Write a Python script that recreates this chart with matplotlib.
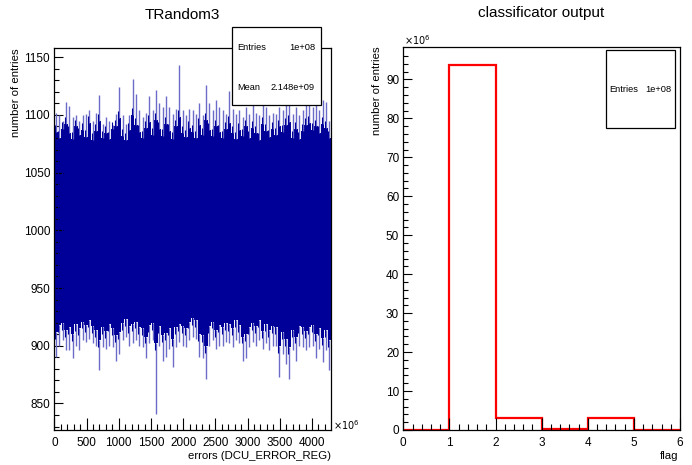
import numpy as np
import matplotlib.pyplot as plt
from matplotlib.patches import Rectangle

plt.rcParams['font.family'] = ['Liberation Sans', 'DejaVu Sans']

# ---- left: TRandom3 histogram (x in units of 1e6) ----
x_max = 4294.967
# spike tips above the band
upper = [1102, 1100, 1095, 1111, 1108, 1098, 1100, 1095, 1100, 1101, 1104, 1095,
         1102, 1117, 1092, 1098, 1095, 1091, 1101, 1124, 1100, 1092, 1100, 1131,
         1118, 1104, 1098, 1102, 1116, 1104, 1122, 1110, 1107, 1116, 1107, 1101,
         1105, 1143, 1104, 1100, 1105, 1104, 1101, 1110, 1100, 1126, 1110, 1104,
         1113, 1107, 1104, 1101, 1121, 1105, 1101, 1104, 1098, 1107, 1101, 1111,
         1102, 1100, 1113, 1107, 1100, 1102, 1101, 1107, 1104, 1110, 1113, 1101,
         1107, 1100, 1104, 1110, 1113, 1107, 1111, 1104, 1113, 1111, 1095]
# spike tips below the band
lower = [890, 900, 905, 896, 896, 889, 900, 896, 905, 903, 906, 902,
         900, 879, 899, 897, 900, 899, 887, 893, 905, 908, 900, 902,
         905, 900, 899, 889, 902, 905, 841, 900, 887, 890, 897, 882,
         899, 903, 900, 899, 905, 908, 906, 890, 889, 871, 900, 905,
         897, 900, 900, 903, 902, 899, 905, 902, 887, 889, 899, 903,
         900, 905, 897, 902, 896, 900, 900, 873, 893, 884, 871, 896,
         887, 900, 899, 896, 899, 900, 889, 897, 886, 896, 879]
# edges of the solid dark band
core_top = [1085, 1080, 1088, 1092, 1084, 1079, 1090, 1083, 1087, 1081, 1093, 1078,
            1086, 1095, 1080, 1084, 1079, 1088, 1090, 1097, 1082, 1078, 1087, 1100,
            1091, 1085, 1080, 1089, 1094, 1083, 1096, 1088, 1082, 1092, 1086, 1079,
            1090, 1098, 1084, 1081, 1089, 1085, 1080, 1091, 1083, 1096, 1087, 1082,
            1090, 1085, 1080, 1088, 1093, 1084, 1079, 1087, 1082, 1090, 1080, 1089,
            1084, 1078, 1092, 1086, 1081, 1088, 1083, 1090, 1085, 1091, 1094, 1080,
            1088, 1079, 1086, 1091, 1093, 1087, 1090, 1084, 1092, 1089, 1080]
core_bot = [912, 918, 920, 914, 916, 910, 919, 915, 921, 918, 922, 917,
            914, 905, 916, 913, 919, 915, 909, 912, 920, 923, 917, 919,
            921, 916, 915, 908, 918, 920, 902, 917, 909, 911, 915, 906,
            916, 919, 917, 915, 921, 924, 922, 910, 909, 900, 917, 921,
            914, 918, 916, 920, 919, 915, 922, 918, 908, 910, 916, 920,
            917, 922, 913, 919, 914, 917, 916, 900, 912, 906, 899, 914,
            908, 917, 916, 913, 916, 918, 910, 915, 907, 914, 905]

# ---- right: classificator output ----
flag_edges = [0, 1, 2, 3, 4, 5, 6]
flag_counts = [0.0, 93.8e6, 3.2e6, 0.2e6, 3.2e6, 0.0]

dark = '#000099'
light = '#6b6bc8'

fig = plt.figure(figsize=(6.92, 4.65), dpi=100)

# left panel
ax1 = fig.add_axes([0.0785, 0.0753, 0.3998, 0.8215])
edges = np.linspace(0, x_max, len(upper) + 1)
centers = 0.5 * (edges[:-1] + edges[1:])
ax1.stairs(core_top, edges, baseline=core_bot, fill=True, color=dark, lw=0)
ax1.vlines(centers, core_top, upper, color=light, lw=1.0)
ax1.vlines(centers, lower, core_bot, color=light, lw=1.0)
ax1.vlines(centers - 0.25 * (edges[1] - edges[0]), np.array(core_bot) - 6,
           np.array(core_top) + 6, color=dark, lw=0.8)
ax1.set_xlim(0, x_max)
ax1.set_ylim(827, 1158)
ax1.set_xticks(np.arange(0, 4001, 500))
ax1.set_xticks(np.arange(0, 4300, 100), minor=True)
ax1.set_yticks(np.arange(850, 1151, 50))
ax1.set_yticks(np.arange(830, 1158, 10), minor=True)
ax1.set_ylabel('number of entries', fontsize=8.2, loc='top', labelpad=2)
fig.text(331 / 692, 1 - 456 / 465, 'errors (DCU_ERROR_REG)', fontsize=8.2,
         ha='right', va='center')
fig.text(182 / 692, 1 - 15 / 465, 'TRandom3', fontsize=11, ha='center', va='center')
fig.text(333 / 692, 1 - 425 / 465, r'$\times10^{6}$', fontsize=7, va='center', ha='left')

# right panel
ax2 = fig.add_axes([0.5828, 0.0753, 0.3999, 0.8243])
ax2.stairs(flag_counts, flag_edges, color='red', lw=1.6)
ax2.set_xlim(0, 6)
ax2.set_ylim(0, 98.4e6)
ax2.set_xticks(range(0, 7))
ax2.set_xticks(np.arange(0, 6.01, 0.2), minor=True)
ax2.set_yticks(np.arange(0, 91e6, 10e6))
ax2.set_yticks(np.arange(0, 98e6, 2e6), minor=True)
ax2.set_yticklabels([str(v) for v in range(0, 91, 10)])
ax2.set_ylabel('number of entries', fontsize=8.2, loc='top', labelpad=3)
fig.text(678 / 692, 1 - 456 / 465, 'flag', fontsize=8.2, ha='right', va='center')
fig.text(541 / 692, 1 - 13 / 465, 'classificator output', fontsize=11,
         ha='center', va='center')
fig.text(404 / 692, 1 - 40 / 465, r'$\times10^{6}$', fontsize=7, va='center', ha='left')

for ax in (ax1, ax2):
    ax.tick_params(axis='x', which='major', direction='in', length=8.5, width=0.8)
    ax.tick_params(axis='x', which='minor', direction='in', length=4.3, width=0.8)
    ax.tick_params(axis='y', which='major', direction='in', length=6.5, width=0.8)
    ax.tick_params(axis='y', which='minor', direction='in', length=3.4, width=0.8)
    ax.tick_params(axis='x', labelsize=8.5, pad=5)
    ax.tick_params(axis='y', labelsize=8.5, pad=3)
    for s in ax.spines.values():
        s.set_linewidth(0.9)

# stats boxes
fig.add_artist(Rectangle((232 / 692, 1 - 105 / 465), 89 / 692, 78 / 465,
                         transform=fig.transFigure, facecolor='white',
                         edgecolor='black', lw=0.9, zorder=10))
fig.text(237 / 692, 1 - 47 / 465, 'Entries', fontsize=6.7, va='center', zorder=11)
fig.text(315 / 692, 1 - 47 / 465, '1e+08', fontsize=6.7, va='center', ha='right', zorder=11)
fig.text(237 / 692, 1 - 87 / 465, 'Mean', fontsize=6.7, va='center', zorder=11)
fig.text(315 / 692, 1 - 87 / 465, '2.148e+09', fontsize=6.7, va='center', ha='right', zorder=11)

fig.add_artist(Rectangle((606 / 692, 1 - 128 / 465), 69 / 692, 78 / 465,
                         transform=fig.transFigure, facecolor='white',
                         edgecolor='black', lw=0.9, zorder=10))
fig.text(609 / 692, 1 - 89 / 465, 'Entries', fontsize=6.7, va='center', zorder=11)
fig.text(671 / 692, 1 - 89 / 465, '1e+08', fontsize=6.7, va='center', ha='right', zorder=11)

fig.savefig('out.png', dpi=100)
